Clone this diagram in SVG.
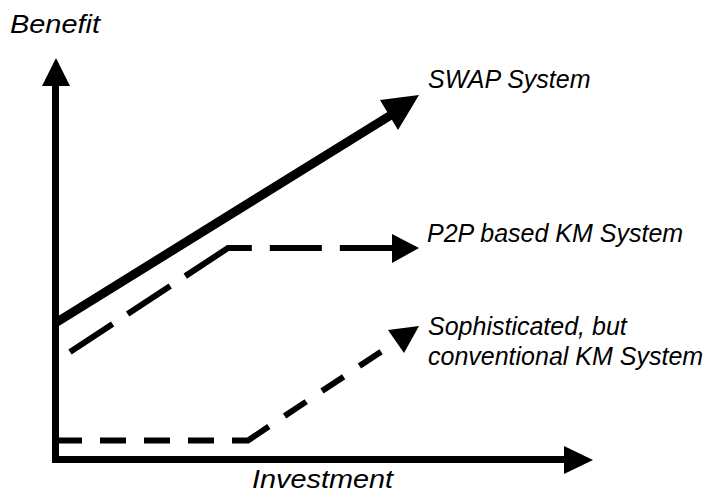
<svg xmlns="http://www.w3.org/2000/svg" width="709" height="494" viewBox="0 0 709 494">
<style>
text { font-family: "Liberation Sans", Arial, sans-serif; font-style: italic; fill: #000; }
.lbl { font-size: 25px; }
.ax { font-size: 25px; }
.head { fill: #000; stroke: none; }
</style>
<rect width="709" height="494" fill="#fff"/>
<g id="axes">
  <path d="M55.5,463 V84" stroke="#000" stroke-width="7" fill="none"/>
  <path d="M52,459.5 H566" stroke="#000" stroke-width="7" fill="none"/>
  <polygon class="head" points="56,58 42,86 70,86"/>
  <polygon class="head" points="593,460 564,446 564,474"/>
  <text id="y-label" class="ax" x="10" y="33" textLength="90" lengthAdjust="spacingAndGlyphs">Benefit</text>
  <text id="x-label" class="ax" x="252" y="488" textLength="141" lengthAdjust="spacingAndGlyphs">Investment</text>
</g>
<g id="connectors">
  <g id="swap-line">
    <path d="M57,322 L391,115" stroke="#000" stroke-width="9" fill="none"/>
    <polygon class="head" points="419,95 380,100 398,130"/>
  </g>
  <g id="p2p-line">
    <path d="M70,352 L228,248 H393" stroke="#000" stroke-width="6" fill="none" stroke-linejoin="miter" stroke-dasharray="51 18 51 18 75 18 52 18 60 20"/>
    <polygon class="head" points="419,248 392,234 392,263"/>
  </g>
  <g id="conv-line">
    <path d="M56,440.5 H248 L397,341" stroke="#000" stroke-width="6" fill="none" stroke-linejoin="miter" stroke-dasharray="26 18 26 18 26 18 26 18 41 19 26 19 26 19 26 19 26 100"/>
    <polygon class="head" points="419,326 388,330 404,353"/>
  </g>
</g>
<g id="swap">
  <text class="lbl" x="428" y="88">SWAP System</text>
</g>
<g id="p2p">
  <text class="lbl" x="427" y="242">P2P based KM System</text>
</g>
<g id="conventional">
  <text class="lbl" x="428" y="335">Sophisticated, but</text>
  <text class="lbl" x="428" y="365">conventional KM System</text>
</g>
</svg>
